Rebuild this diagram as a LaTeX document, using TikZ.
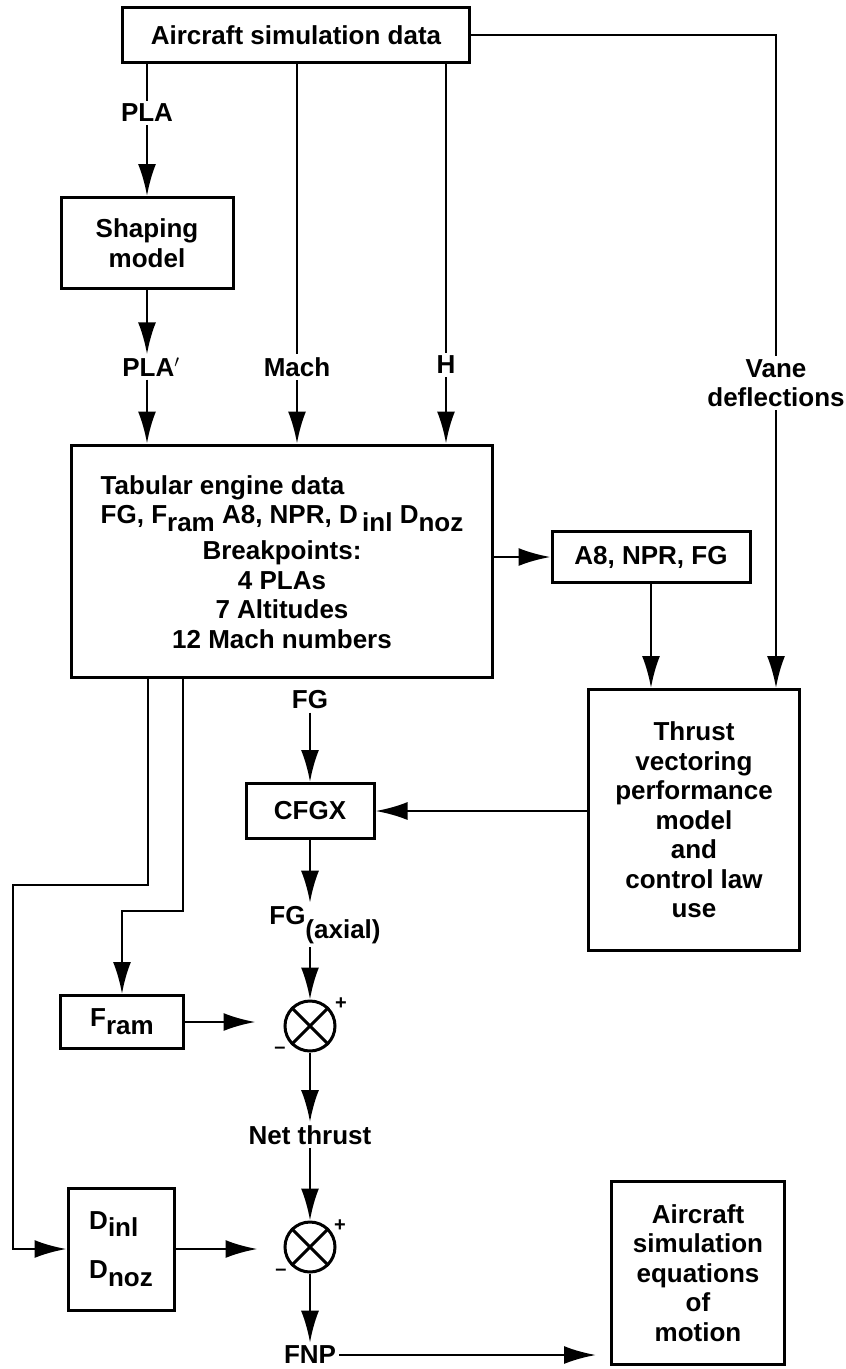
\documentclass[tikz,border=0pt]{standalone}
\usepackage{fontspec}
\setmainfont{Liberation Sans}
\usetikzlibrary{arrows.meta}

\newcommand{\lowr}[1]{\raisebox{-0.3em}{#1}}

\tikzset{
  blk/.style={draw, line width=3pt, align=center, inner sep=0pt},
  lbl/.style={inner sep=2pt, align=center},
  arr/.style={-{Latex[length=32pt,width=18pt]}},
  sumj/.style={draw, circle, line width=3pt, minimum size=50pt, inner sep=0pt},
  sgn/.style={inner sep=0pt, font=\fontsize{20}{20}\selectfont\bfseries}
}

\begin{document}
\begin{tikzpicture}[x=1pt, y=-1pt, line width=2.7pt, font=\fontsize{26}{29.5}\selectfont\bfseries]
  \useasboundingbox (0,0) rectangle (846,1369);

  % blocks
  \node[blk, minimum width=347pt, minimum height=55pt] (top) at (296,35) {Aircraft simulation data};
  \node[blk, minimum width=172pt, minimum height=91pt] (shape) at (147,243) {Shaping\\model};
  \node[blk, minimum width=421pt, minimum height=232pt] (tab) at (282,561)
    {\begin{tabular}{@{}l@{}}Tabular engine data\\FG, F\lowr{ram} A8, NPR, D\,\lowr{inl} D\lowr{noz}\end{tabular}\\[7pt]
     Breakpoints:\\4 PLAs\\7 Altitudes\\12 Mach numbers};
  \node[blk, minimum width=198pt, minimum height=51pt] (a8) at (651,557) {A8, NPR, FG};
  \node[blk, minimum width=211pt, minimum height=261pt] (thr) at (694,820)
    {Thrust\\vectoring\\performance\\model\\and\\control law\\use};
  \node[blk, minimum width=128pt, minimum height=55pt] (cfgx) at (310,811) {CFGX};
  \node[blk, minimum width=123pt, minimum height=53pt] (fram) at (122,1022) {F\lowr{ram}};
  \node[blk, align=left, minimum width=106pt, minimum height=122pt] (dd) at (121,1249) {D\lowr{inl}\\[20pt]D\lowr{noz}};
  \node[blk, minimum width=173pt, minimum height=183pt] (eom) at (698,1273)
    {Aircraft\\simulation\\equations\\of\\motion};

  % summing points
  \node[sumj] (s1) at (310,1026) {};
  \draw[line width=3pt] (s1.north east) -- (s1.south west) (s1.north west) -- (s1.south east);
  \node[sgn] at (341,1004) {+};
  \node[sgn] at (280,1050) {--};
  \node[sumj] (s2) at (310,1247) {};
  \draw[line width=3pt] (s2.north east) -- (s2.south west) (s2.north west) -- (s2.south east);
  \node[sgn] at (340,1226) {+};
  \node[sgn] at (281,1272) {--};

  % signal names
  \node[lbl] (pla) at (147,113) {PLA};
  \node[lbl] (plap) at (151,367) {PLA$'$};
  \node[lbl] (mach) at (297,367) {Mach};
  \node[lbl] (hh) at (446,365) {H};
  \node[lbl] (vane) at (776,383) {Vane\\deflections};
  \node[lbl] (fg) at (310,700) {FG};
  \node[lbl] (fgax) at (325,925) {FG\raisebox{-0.55em}{(axial)}};
  \node[lbl] (net) at (310,1135) {Net thrust};
  \node[lbl] (fnp) at (310,1355) {FNP};

  % connections
  \draw (top.south -| pla) -- (pla);
  \draw[arr] (pla) -- (shape);
  \draw[arr] (shape) -- (plap.north -| shape);
  \draw[arr] (plap.south -| shape) -- (tab.north -| shape);
  \draw (top.south -| mach) -- (mach);
  \draw[arr] (mach) -- (tab.north -| mach);
  \draw (top.south -| hh) -- (hh);
  \draw[arr] (hh) -- (tab.north -| hh);
  \draw (top.east) -| (vane);
  \draw[arr] (vane) -- (thr.north -| vane);
  \draw[arr] (tab.east |- a8) -- (a8);
  \draw[arr] (a8) -- (thr.north -| a8);
  \draw[arr] (thr.west |- cfgx) -- (cfgx);
  \draw[arr] (fg) -- (cfgx);
  \draw[arr] (cfgx) -- (cfgx.south |- fgax.north);
  \draw[arr] (s1.north |- fgax.south) -- (s1);
  \draw[arr, shorten >=28pt] (fram.east) -- (fram.east -| s1.west);
  \draw[arr] (s1) -- (net);
  \draw[arr] (net) -- (s2);
  \draw[arr, shorten >=26pt] (dd.east) -- (dd.east -| s2.west);
  \draw[arr] (s2) -- (fnp);
  \draw[arr, shorten >=14pt] (fnp.east) -- (fnp.east -| eom.west);

  \coordinate (k1) at (148,885);
  \coordinate (k2) at (13,885);
  \coordinate (k3) at (183,911);
  \draw[arr] (tab.south -| k1) -- (k1) -- (k2) |- (dd.west);
  \draw[arr] (tab.south -| k3) -- (k3) -| (fram.north);
\end{tikzpicture}
\end{document}
